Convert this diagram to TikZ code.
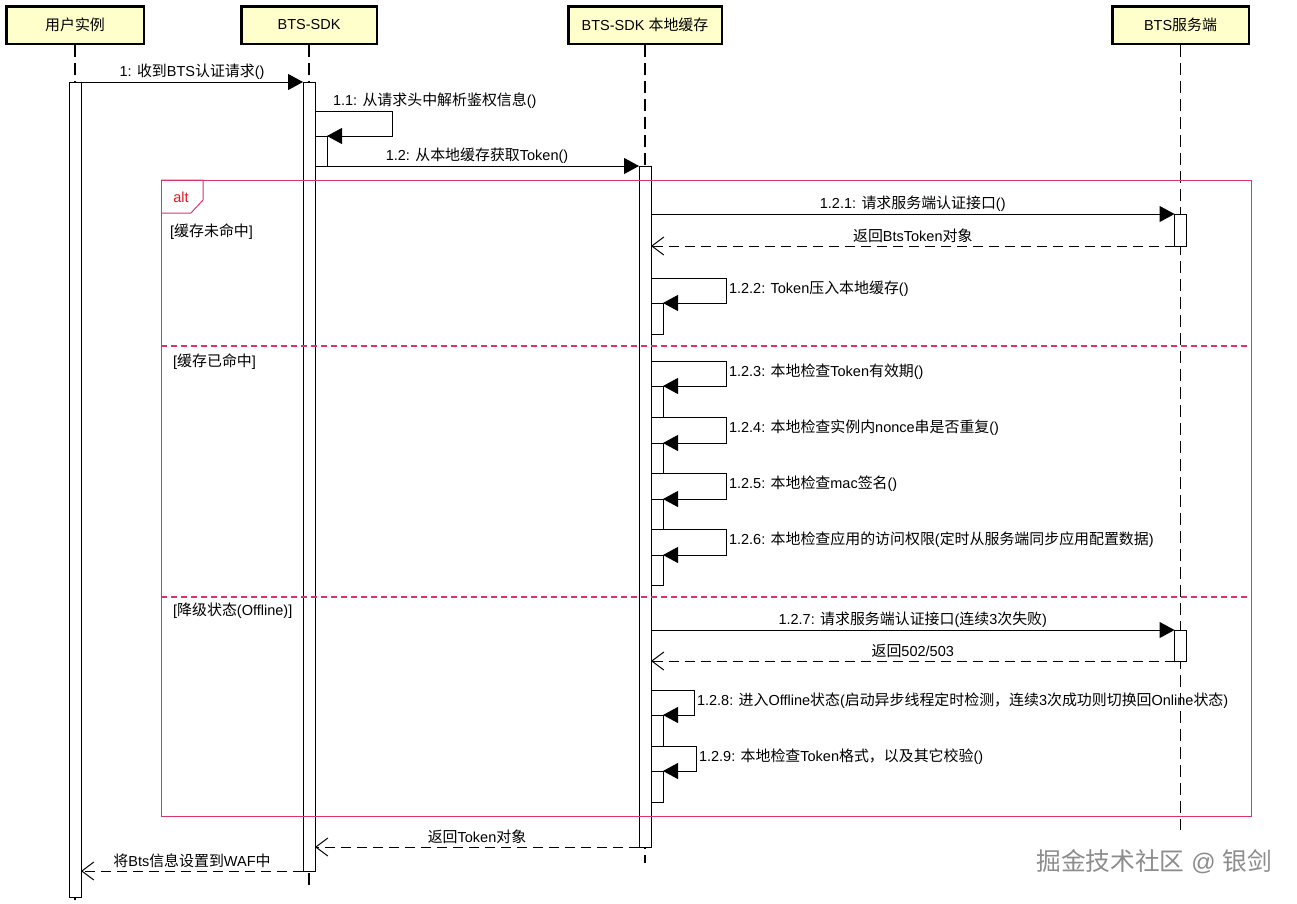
\documentclass[tikz,border=0pt]{standalone}
\usepackage{fontspec}
\setmainfont{Liberation Sans}
\newfontfamily\latinfont{Liberation Sans}
\newfontfamily\cjkfont[Scale=1.03]{Noto Sans CJK SC}
\usetikzlibrary{arrows.meta}
% CJK characters switch to the CJK font
\XeTeXinterchartokenstate=1
\newXeTeXintercharclass\cjkclass
\count255="3000
\loop
  \XeTeXcharclass\count255=\cjkclass
  \advance\count255 by 1
\ifnum\count255<"A000 \repeat
\XeTeXcharclass"FF0C=\cjkclass
\XeTeXinterchartoks 0 \cjkclass = {\cjkfont}
\XeTeXinterchartoks 4095 \cjkclass = {\cjkfont}
\XeTeXinterchartoks \cjkclass 0 = {\latinfont}
\XeTeXinterchartoks \cjkclass 4095 = {\latinfont}
\definecolor{headfill}{RGB}{255,255,204}
\definecolor{framepink}{RGB}{221,51,107}
\definecolor{altred}{RGB}{230,20,30}
\definecolor{markgray}{RGB}{140,140,140}
\begin{document}
\begin{tikzpicture}[x=1pt,y=-1pt,font=\fontsize{14.5}{16}\selectfont]
    \tikzstyle{head} = [draw,line width=2.5pt,fill=headfill,minimum height=37.5pt,inner sep=0pt]
    \tikzstyle{life} = [line width=1.2pt,dash pattern=on 12pt off 6pt]
    \tikzstyle{act} = [draw,line width=1pt,fill=white,minimum width=12pt,inner sep=0pt,outer sep=0pt,anchor=north]
    \tikzstyle{msg} = [line width=1pt,-{Triangle[length=15pt,width=16pt]}]
    \tikzstyle{ret} = [line width=1pt,dash pattern=on 10pt off 6pt,-{Straight Barb[length=12pt,width=18pt]}]
    \tikzstyle{frame} = [draw=framepink,line width=1pt]
    \tikzstyle{sep} = [draw=framepink,line width=1.2pt,dash pattern=on 6pt off 4pt]
    \tikzstyle{lbl} = [inner sep=2.5pt]
        \useasboundingbox (0,0) rectangle (1297,903);
        % participants
        \node[head,minimum width=137.5pt] (user) at (75,25) {用户实例};
        \node[head,minimum width=135.5pt] (sdk) at (309,25) {BTS-SDK};
        \node[head,minimum width=153.5pt] (cache) at (645,25) {BTS-SDK 本地缓存};
        \node[head,minimum width=136.5pt] (server) at (1180.5,25) {BTS服务端};
        \draw[life] (user.south) -- (user.south |- 0,900);
        \draw[life] (sdk.south) -- (sdk.south |- 0,890);
        \draw[life] (cache.south) -- (cache.south |- 0,863);
        \draw[life] (server.south) -- (server.south |- 0,830);
        % activations
        \node[act,minimum height=815pt] (actUser) at (75,82) {};
        \node[act,minimum height=789pt] (actSdk) at (309,82) {};
        \node[act,minimum height=30pt] (actSdk1) at (321,136) {};
        \node[act,minimum height=681pt] (actCache) at (645,166) {};
        \node[act,minimum height=32pt] (actServer1) at (1180.5,214) {};
        \node[act,minimum height=31pt] (actCache1) at (657,303) {};
        \node[act,minimum height=31pt] (actCache2) at (657,386) {};
        \node[act,minimum height=30pt] (actCache3) at (657,443) {};
        \node[act,minimum height=30pt] (actCache4) at (657,499) {};
        \node[act,minimum height=30pt] (actCache5) at (657,555) {};
        \node[act,minimum height=31pt] (actServer2) at (1180.5,630) {};
        \node[act,minimum height=31pt] (actCache6) at (657,715) {};
        \node[act,minimum height=31pt] (actCache7) at (657,771) {};
        % messages
        \draw[msg] (actUser.north east) -- node[lbl,above] {1: 收到BTS认证请求()} (actSdk.north west);
        \draw[msg] (actSdk.east |- 0,111) node[lbl,anchor=south west,xshift=15pt] {1.1: 从请求头中解析鉴权信息()}
            -- ++(77,0) |- (actSdk1.north east);
        \draw[msg] (actSdk.east |- actCache.north) -- node[lbl,above] {1.2: 从本地缓存获取Token()} (actCache.north west);
        \draw[msg] (actCache.east |- actServer1.north) -- node[lbl,above] {1.2.1: 请求服务端认证接口()} (actServer1.north west);
        \draw[ret] (actServer1.south west) -- node[lbl,above] {返回BtsToken对象} (actCache.east |- actServer1.south);
        \draw[msg] (actCache.east |- 0,278) -- ++(75,0) node[lbl,anchor=north west] {1.2.2: Token压入本地缓存()} |- (actCache1.north east);
        \draw[msg] (actCache.east |- 0,361) -- ++(75,0) node[lbl,anchor=north west] {1.2.3: 本地检查Token有效期()} |- (actCache2.north east);
        \draw[msg] (actCache.east |- 0,417) -- ++(75,0) node[lbl,anchor=north west] {1.2.4: 本地检查实例内nonce串是否重复()} |- (actCache3.north east);
        \draw[msg] (actCache.east |- 0,473) -- ++(75,0) node[lbl,anchor=north west] {1.2.5: 本地检查mac签名()} |- (actCache4.north east);
        \draw[msg] (actCache.east |- 0,529) -- ++(75,0) node[lbl,anchor=north west] {1.2.6: 本地检查应用的访问权限(定时从服务端同步应用配置数据)} |- (actCache5.north east);
        \draw[msg] (actCache.east |- actServer2.north) -- node[lbl,above] {1.2.7: 请求服务端认证接口(连续3次失败)} (actServer2.north west);
        \draw[ret] (actServer2.south west) -- node[lbl,above] {返回502/503} (actCache.east |- actServer2.south);
        \draw[msg] (actCache.east |- 0,690) -- ++(43,0) node[lbl,anchor=north west] {1.2.8: 进入Offline状态(启动异步线程定时检测，连续3次成功则切换回Online状态)} |- (actCache6.north east);
        \draw[msg] (actCache.east |- 0,746) -- ++(45,0) node[lbl,anchor=north west] {1.2.9: 本地检查Token格式，以及其它校验()} |- (actCache7.north east);
        \draw[ret] (actCache.south west) -- node[lbl,above] {返回Token对象} (actSdk.east |- actCache.south);
        \draw[ret] (actSdk.south west) -- node[lbl,above] {将Bts信息设置到WAF中} (actUser.east |- actSdk.south);
        % alt frame
        \node[frame,minimum width=1090pt,minimum height=636pt,inner sep=0pt,outer sep=0pt,anchor=north west] (alt) at (161,180) {};
        \draw[frame] (alt.north west) -- ++(42,0) -- ++(0,20) -- ++(-12,13) -- ++(-30,0);
        \node[text=altred] (altTag) at (181,197) {alt};
        \draw[sep] (alt.west |- 0,346) -- (alt.east |- 0,346);
        \draw[sep] (alt.west |- 0,597) -- (alt.east |- 0,597);
        \node[anchor=west,inner sep=0pt] (guardMiss) at (170,232) {[缓存未命中]};
        \node[anchor=west,inner sep=0pt] (guardHit) at (173,362) {[缓存已命中]};
        \node[anchor=west,inner sep=0pt] (guardOff) at (173,611) {[降级状态(Offline)]};
        \node[text=markgray,font=\fontsize{24}{26}\selectfont] (mark) at (1154,862) {掘金技术社区 @ 银剑};
    \end{tikzpicture}
\end{document}
